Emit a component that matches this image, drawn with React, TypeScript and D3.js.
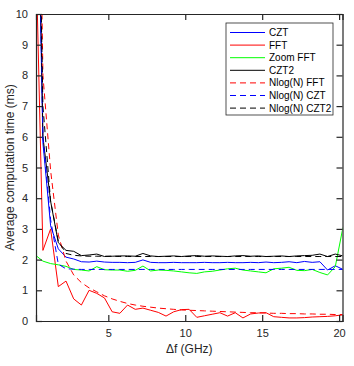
import React, { useEffect, useRef } from 'react';
import * as d3 from 'd3';

// frequency step (GHz), 0.25 : 0.5 : 20.25
const deltaF = [0.25, 0.75, 1.25, 1.75, 2.25, 2.75, 3.25, 3.75, 4.25, 4.75, 5.25, 5.75, 6.25, 6.75, 7.25, 7.75, 8.25, 8.75, 9.25, 9.75, 10.25,
  10.75, 11.25, 11.75, 12.25, 12.75, 13.25, 13.75, 14.25, 14.75, 15.25, 15.75, 16.25, 16.75, 17.25, 17.75, 18.25, 18.75, 19.25, 19.75, 20.25];

const czt = [19, 5.8, 3.1, 2.35, 2.08, 2.02, 1.93, 1.92, 1.95, 1.92, 1.91, 1.91, 1.9, 1.91, 1.99, 1.91, 1.9, 1.9, 1.91, 1.9, 1.9,
  1.9, 1.91, 1.9, 1.9, 1.91, 1.9, 1.9, 1.91, 1.9, 1.92, 1.9, 1.91, 1.93, 1.9, 1.94, 1.91, 1.93, 1.66, 1.8, 1.68];
const fft = [13, 2.3, 3.0, 1.12, 1.3, 0.72, 0.52, 1.0, 0.9, 0.75, 0.3, 0.25, 0.52, 0.38, 0.42, 0.35, 0.28, 0.16, 0.3, 0.37, 0.38,
  0.12, 0.17, 0.22, 0.27, 0.16, 0.27, 0.1, 0.23, 0.26, 0.27, 0.14, 0.12, 0.1, 0.1, 0.11, 0.13, 0.14, 0.15, 0.17, 0.2];
const zoomFft = [2.15, 1.95, 1.87, 1.83, 1.78, 1.68, 1.66, 1.63, 1.77, 1.67, 1.66, 1.66, 1.62, 1.65, 1.79, 1.63, 1.66, 1.65, 1.63, 1.6, 1.57,
  1.55, 1.6, 1.62, 1.66, 1.7, 1.72, 1.66, 1.63, 1.6, 1.57, 1.7, 1.72, 1.75, 1.65, 1.64, 1.68, 1.58, 1.5, 1.77, 3.05];
const czt2 = [21, 6.0, 3.9, 2.55, 2.3, 2.27, 2.13, 2.15, 2.18, 2.1, 2.11, 2.12, 2.12, 2.11, 2.2, 2.12, 2.1, 2.11, 2.12, 2.1, 2.12,
  2.13, 2.11, 2.12, 2.11, 2.1, 2.12, 2.13, 2.11, 2.12, 2.1, 2.11, 2.12, 2.1, 2.12, 2.13, 2.14, 2.18, 2.1, 2.18, 2.12];
const nlogFft = [25, 8, 4.9, 2.8, 1.95, 1.5, 1.25, 1.08, 0.95, 0.82, 0.72, 0.64, 0.57, 0.52, 0.48, 0.45, 0.42, 0.4, 0.38, 0.36, 0.35,
  0.34, 0.33, 0.32, 0.31, 0.3, 0.29, 0.28, 0.27, 0.27, 0.26, 0.25, 0.25, 0.24, 0.24, 0.23, 0.23, 0.22, 0.22, 0.21, 0.21];
const nlogCzt = [20, 6.0, 3.3, 1.85, 1.7, 1.69, 1.68, 1.68, 1.68, 1.68, 1.68, 1.68, 1.68, 1.68, 1.68, 1.68, 1.68, 1.68, 1.68, 1.68, 1.68,
  1.68, 1.68, 1.68, 1.68, 1.68, 1.68, 1.68, 1.68, 1.68, 1.68, 1.68, 1.68, 1.68, 1.68, 1.68, 1.68, 1.68, 1.68, 1.68, 1.68];
const nlogCzt2 = [21, 7, 3.9, 2.6, 2.2, 2.14, 2.12, 2.11, 2.11, 2.11, 2.11, 2.1, 2.1, 2.1, 2.1, 2.1, 2.1, 2.1, 2.1, 2.1, 2.1,
  2.1, 2.1, 2.1, 2.1, 2.1, 2.1, 2.1, 2.1, 2.1, 2.1, 2.1, 2.1, 2.1, 2.1, 2.1, 2.1, 2.1, 2.1, 2.1, 2.1];

const xTicks = [5, 10, 15, 20];
const yTicks = [0, 1, 2, 3, 4, 5, 6, 7, 8, 9, 10];

const series = [
  { name: 'CZT', values: czt, color: '#0000ff', dash: null },
  { name: 'FFT', values: fft, color: '#ff0000', dash: null },
  { name: 'Zoom FFT', values: zoomFft, color: '#00ff00', dash: null },
  { name: 'CZT2', values: czt2, color: '#000000', dash: null },
  { name: 'Nlog(N) FFT', values: nlogFft, color: '#ff0000', dash: '6,4' },
  { name: 'Nlog(N) CZT', values: nlogCzt, color: '#0000ff', dash: '6,4' },
  { name: 'Nlog(N) CZT2', values: nlogCzt2, color: '#000000', dash: '6,4' },
];

const W = 354;
const H = 366;
const m = { left: 36, top: 14, right: 11.5, bottom: 45 };

export default function App() {
  const ref = useRef<SVGSVGElement>(null);

  useEffect(() => {
    document.body.style.margin = '0';
    const svg = d3.select(ref.current);
    svg.selectAll('*').remove();

    const x = d3.scaleLinear().domain([0.3, 20.22]).range([m.left, W - m.right]);
    const y = d3.scaleLinear().domain([0, 10]).range([H - m.bottom, m.top]);
    const axisColor = '#262626';
    const font = 'Liberation Sans, Arial, sans-serif';

    svg.append('rect').attr('width', W).attr('height', H).attr('fill', '#fff');

    svg.append('clipPath').attr('id', 'plotclip')
      .append('rect')
      .attr('x', m.left).attr('y', m.top)
      .attr('width', W - m.right - m.left).attr('height', H - m.bottom - m.top);

    const line = d3.line<number>()
      .x((_, i) => x(deltaF[i]))
      .y(d => y(d));

    const plot = svg.append('g').attr('clip-path', 'url(#plotclip)');
    series.forEach(s => {
      plot.append('path')
        .attr('d', line(s.values))
        .attr('fill', 'none')
        .attr('stroke', s.color)
        .attr('stroke-width', 1)
        .attr('stroke-dasharray', s.dash);
    });

    // axes, MATLAB style box with inner ticks
    const tl = 6;
    const bottom = svg.append('g').attr('transform', `translate(0,${H - m.bottom})`)
      .call(d3.axisBottom(x).tickValues(xTicks).tickSize(-tl).tickPadding(8));
    const top = svg.append('g').attr('transform', `translate(0,${m.top})`)
      .call(d3.axisTop(x).tickValues(xTicks).tickSize(-tl).tickFormat(() => ''));
    const left = svg.append('g').attr('transform', `translate(${m.left},0)`)
      .call(d3.axisLeft(y).tickValues(yTicks).tickSize(-tl).tickPadding(8));
    const right = svg.append('g').attr('transform', `translate(${W - m.right},0)`)
      .call(d3.axisRight(y).tickValues(yTicks).tickSize(-tl).tickFormat(() => ''));

    [bottom, top, left, right].forEach(g => {
      g.select('.domain').attr('stroke', axisColor).attr('stroke-width', 1.2);
      g.selectAll('.tick line').attr('stroke', axisColor).attr('stroke-width', 1.2);
      g.selectAll('.tick text').attr('fill', axisColor).style('font-family', font).style('font-size', '11px');
    });

    svg.append('text')
      .attr('x', (m.left + W - m.right) / 2)
      .attr('y', 353)
      .attr('text-anchor', 'middle')
      .style('font-family', font)
      .style('font-size', '12px')
      .attr('fill', axisColor)
      .text('Δf (GHz)');

    svg.append('text')
      .attr('transform', `translate(14,${(m.top + H - m.bottom) / 2}) rotate(-90)`)
      .attr('text-anchor', 'middle')
      .style('font-family', font)
      .style('font-size', '12px')
      .attr('fill', axisColor)
      .text('Average computation time (ms)');

    // legend
    const lx = 226, ly = 23, lw = 107, rowH = 12.6;
    const legend = svg.append('g');
    legend.append('rect')
      .attr('x', lx).attr('y', ly)
      .attr('width', lw).attr('height', 92)
      .attr('fill', '#fff')
      .attr('stroke', axisColor)
      .attr('stroke-width', 0.8);
    series.forEach((s, i) => {
      const cy = ly + 9.5 + i * rowH;
      legend.append('line')
        .attr('x1', lx + 4).attr('x2', lx + 39)
        .attr('y1', cy).attr('y2', cy)
        .attr('stroke', s.color)
        .attr('stroke-width', 1)
        .attr('stroke-dasharray', s.dash);
      legend.append('text')
        .attr('x', lx + 43).attr('y', cy)
        .attr('dy', '0.35em')
        .style('font-family', font)
        .style('font-size', '10px')
        .attr('fill', '#000')
        .text(s.name);
    });
  }, []);

  return <svg ref={ref} width={W} height={H} style={{ display: 'block' }}></svg>;
}
